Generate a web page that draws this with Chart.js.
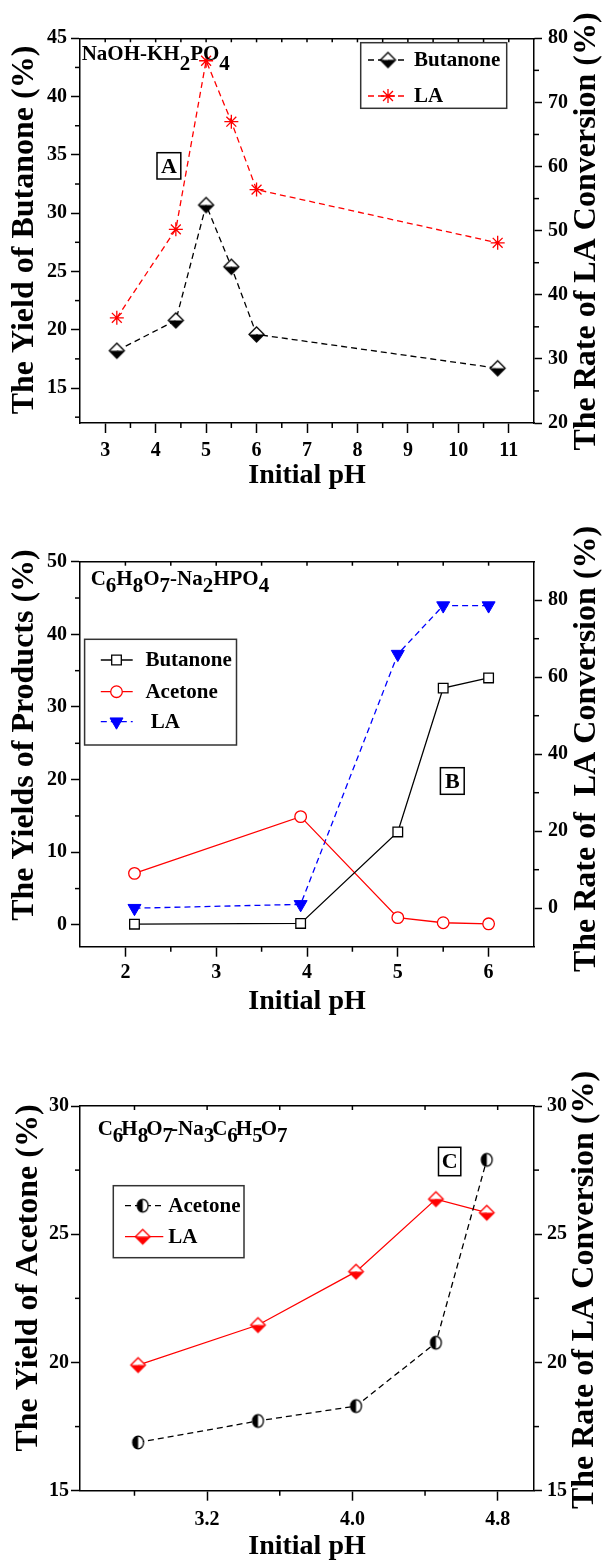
<!DOCTYPE html>
<html>
<head>
<meta charset="utf-8">
<script src="https://cdn.jsdelivr.net/npm/chart.js@4.4.1/dist/chart.umd.min.js"></script>
<style>
  body { margin: 0; background: #fff; }
  #wrap { position: relative; width: 603px; height: 1564px; }
  canvas { position: absolute; left: 0; }
</style>
</head>
<body>
<div id="wrap">
  <canvas id="chartA" width="603" height="500" style="top:0"></canvas>
  <canvas id="chartB" width="603" height="520" style="top:500px"></canvas>
  <canvas id="chartC" width="603" height="534" style="top:1030px"></canvas>
</div>
<script>
// Panel A - NaOH-KH2PO4
const phA = [3.23, 4.40, 5.00, 5.50, 6.00, 10.78];
const butanoneA = [18.2, 20.8, 30.7, 25.4, 19.6, 16.7];
const laA = [36.4, 50.2, 76.5, 67.0, 56.4, 48.1];
const xTicksA = [3, 4, 5, 6, 7, 8, 9, 10, 11];
const yTicksA = [15, 20, 25, 30, 35, 40, 45];
const y2TicksA = [20, 30, 40, 50, 60, 70, 80];

// Panel B - C6H8O7-Na2HPO4
const phB = [2.10, 3.93, 5.00, 5.50, 6.00];
const butanoneB = [0.1, 0.2, 12.8, 32.6, 34.0];
const acetoneB = [7.1, 14.9, 1.0, 0.3, 0.15];
const laB = [0.0, 1.0, 66.0, 78.6, 78.6];
const xTicksB = [2, 3, 4, 5, 6];
const yTicksB = [0, 10, 20, 30, 40, 50];
const y2TicksB = [0, 20, 40, 60, 80];

// Panel C - C6H8O7-Na3C6H5O7
const phC = [2.82, 3.48, 4.02, 4.46, 4.74];
const acetoneC = [16.88, 17.72, 18.30, 20.77, 27.9];
const laC = [19.9, 21.46, 23.54, 26.37, 25.84];
const xTicksC = [3.2, 4.0, 4.8];
const yTicksC = [15, 20, 25, 30];
const y2TicksC = [15, 20, 25, 30];

const SERIF = "'Liberation Serif', 'Times New Roman', serif";
const pts = (xs, ys) => xs.map((x, i) => ({ x: x, y: ys[i] }));

// marker images: half filled diamond and half filled circle
function halfDiamond(r, color) {
  const c = document.createElement('canvas');
  const s = Math.ceil(2 * r + 4);
  c.width = c.height = s;
  const g = c.getContext('2d');
  const m = s / 2;
  g.beginPath(); g.moveTo(m - r, m); g.lineTo(m, m - r); g.lineTo(m + r, m); g.closePath();
  g.fillStyle = '#fff'; g.fill();
  g.beginPath(); g.moveTo(m - r, m); g.lineTo(m, m + r); g.lineTo(m + r, m); g.closePath();
  g.fillStyle = color; g.fill();
  g.beginPath(); g.moveTo(m - r, m); g.lineTo(m, m - r); g.lineTo(m + r, m); g.lineTo(m, m + r); g.closePath();
  g.strokeStyle = color; g.lineWidth = 1.3; g.stroke();
  return c;
}
function halfCircle(rx, ry) {
  const c = document.createElement('canvas');
  c.width = Math.ceil(2 * rx + 4); c.height = Math.ceil(2 * ry + 4);
  const g = c.getContext('2d');
  const mx = c.width / 2, my = c.height / 2;
  g.beginPath(); g.ellipse(mx, my, rx, ry, 0, 0, Math.PI * 2); g.fillStyle = '#fff'; g.fill();
  g.beginPath(); g.ellipse(mx, my, rx, ry, 0, Math.PI / 2, Math.PI * 1.5); g.closePath(); g.fillStyle = '#000'; g.fill();
  g.beginPath(); g.ellipse(mx, my, rx, ry, 0, 0, Math.PI * 2); g.strokeStyle = '#000'; g.lineWidth = 1.3; g.stroke();
  return c;
}

function axis(o) {
  return {
    type: 'linear',
    position: o.position,
    min: o.min,
    max: o.max,
    afterBuildTicks: s => { s.ticks = o.ticks.map(v => ({ value: v })); },
    afterFit: s => { if (s.isHorizontal()) s.height = o.size; else s.width = o.size; },
    grid: { drawOnChartArea: false, drawTicks: true, tickLength: o.tl || 9, tickWidth: 1.5, tickColor: '#000' },
    border: { display: true, color: '#000', width: 1.5 },
    ticks: {
      autoSkip: false, maxRotation: 0, color: '#000', padding: o.pad,
      font: { family: SERIF, size: 20, weight: 'bold' },
      callback: v => o.dec ? Number(v).toFixed(o.dec) : v
    },
    title: o.title ? {
      display: true, text: o.title, color: '#000',
      font: { family: SERIF, size: 28, weight: 'bold', lineHeight: 1 },
      padding: { top: 0, bottom: o.titlePad }
    } : { display: false }
  };
}
function topAxis(min, max) {
  return {
    type: 'linear', position: 'top', min: min, max: max,
    afterFit: s => { s.height = 0; },
    grid: { display: false }, ticks: { display: false },
    border: { display: true, color: '#000', width: 1.5 }
  };
}

function drawRotated(ctx, text, x, y) {
  ctx.save();
  ctx.translate(x, y);
  ctx.rotate(-Math.PI / 2);
  ctx.font = 'bold 32px ' + SERIF;
  ctx.fillStyle = '#000';
  ctx.textAlign = 'center';
  ctx.textBaseline = 'middle';
  ctx.fillText(text, 0, 0);
  ctx.restore();
}

// "_" marks the next character as a subscript
function drawFormula(ctx, f) {
  ctx.font = 'bold 21px ' + SERIF;
  ctx.fillStyle = '#000';
  ctx.textAlign = 'left';
  ctx.textBaseline = 'alphabetic';
  let x = f.x;
  for (let i = 0; i < f.text.length; i++) {
    let ch = f.text[i], sub = false;
    if (ch === '_') { sub = true; ch = f.text[++i]; }
    ctx.fillText(ch, x, sub ? f.y + f.drop : f.y);
    x += ctx.measureText(ch).width + (sub ? f.kern : 0);
  }
}

function extras(e) {
  return {
    id: 'extras',
    afterDraw(chart) {
      const ctx = chart.ctx, a = chart.chartArea;
      ctx.save();
      // minor ticks and inner top ticks
      ctx.strokeStyle = '#000';
      ctx.lineWidth = 1.5;
      Object.keys(e.minor).forEach(id => {
        const s = chart.scales[id], step = e.minor[id];
        const majors = s.ticks.map(t => t.value);
        for (let k = Math.ceil(s.min / step - 1e-9); k * step <= s.max + 1e-9; k++) {
          const v = k * step;
          if (Math.abs(v - s.min) < 1e-6 || Math.abs(v - s.max) < 1e-6) continue;
          const p = s.getPixelForValue(v);
          const major = majors.some(m => Math.abs(m - v) < 1e-6);
          ctx.beginPath();
          if (id === 'x') {
            ctx.moveTo(p, a.top); ctx.lineTo(p, a.top + 4);
            if (!major) { ctx.moveTo(p, a.bottom); ctx.lineTo(p, a.bottom + 5); }
          } else if (!major && s.position === 'left') {
            ctx.moveTo(a.left, p); ctx.lineTo(a.left - 5, p);
          } else if (!major) {
            ctx.moveTo(a.right, p); ctx.lineTo(a.right + 5, p);
          }
          ctx.stroke();
        }
      });

      drawRotated(ctx, e.yTitle.text, e.yTitle.x, e.yTitle.y);
      drawRotated(ctx, e.y2Title.text, e.y2Title.x, e.y2Title.y);
      drawFormula(ctx, e.formula);

      // panel letter in a box
      const t = e.tag;
      ctx.lineWidth = 1.5;
      ctx.strokeRect(t.x, t.y, t.w, t.h);
      ctx.font = 'bold 22px ' + SERIF;
      ctx.textAlign = 'center';
      ctx.textBaseline = 'middle';
      ctx.fillText(t.text, t.x + t.w / 2, t.y + t.h / 2 + 1);

      // legend, built from the datasets
      const L = e.legend;
      ctx.fillStyle = '#fff';
      ctx.fillRect(L.box[0], L.box[1], L.box[2], L.box[3]);
      ctx.strokeStyle = '#333';
      ctx.strokeRect(L.box[0], L.box[1], L.box[2], L.box[3]);
      chart.data.datasets.forEach((ds, i) => {
        const y = L.rows[i];
        ctx.save();
        ctx.strokeStyle = ds.borderColor;
        ctx.lineWidth = 1.3;
        ctx.setLineDash(ds.borderDash || []);
        ctx.beginPath(); ctx.moveTo(L.x1, y); ctx.lineTo(L.x2, y); ctx.stroke();
        ctx.setLineDash([]);
        ctx.fillStyle = ds.pointBackgroundColor;
        ctx.strokeStyle = ds.pointBorderColor;
        ctx.lineWidth = ds.pointBorderWidth;
        Chart.helpers.drawPoint(ctx, {
          pointStyle: ds.pointStyle, radius: ds.pointRadius,
          rotation: ds.pointRotation || 0, borderWidth: ds.pointBorderWidth
        }, L.mx, y);
        ctx.restore();
        ctx.fillStyle = '#000';
        ctx.font = 'bold 21px ' + SERIF;
        ctx.textAlign = 'left';
        ctx.textBaseline = 'middle';
        ctx.fillText(ds.label, L.tx + ((L.dx && L.dx[i]) || 0), y + 1);
      });
      ctx.restore();
    }
  };
}

function makeChart(id, top, scales, datasets, e) {
  new Chart(document.getElementById(id), {
    type: 'line',
    data: { datasets: datasets },
    options: {
      responsive: false,
      animation: false,
      devicePixelRatio: 1,
      layout: { padding: { top: top, left: 0, right: 0, bottom: 0 } },
      scales: scales,
      plugins: { legend: { display: false }, tooltip: { enabled: false } }
    },
    plugins: [extras(e)]
  });
}

// ---- Panel A
makeChart('chartA', 38.3, {
  x: axis({ position: 'bottom', min: 2.5, max: 11.5, ticks: xTicksA, size: 77, tl: 10, pad: 6, title: 'Initial pH', titlePad: 10 }),
  x2: topAxis(2.5, 11.5),
  y: axis({ position: 'left', min: 12, max: 45, ticks: yTicksA, size: 80, pad: 4 }),
  y2: axis({ position: 'right', min: 20, max: 80, ticks: y2TicksA, size: 69, tl: 8, pad: 6 })
}, [
  {
    label: 'Butanone', data: pts(phA, butanoneA), xAxisID: 'x', yAxisID: 'y',
    borderColor: '#000', borderWidth: 1.3, borderDash: [6, 4], tension: 0, fill: false,
    pointStyle: halfDiamond(7.5, '#000'), pointRadius: 7.5,
    pointBackgroundColor: '#000', pointBorderColor: '#000', pointBorderWidth: 1.3
  },
  {
    label: 'LA', data: pts(phA, laA), xAxisID: 'x', yAxisID: 'y2',
    borderColor: '#ff0000', borderWidth: 1.3, borderDash: [6, 4], tension: 0, fill: false,
    pointStyle: 'star', pointRadius: 7,
    pointBackgroundColor: '#ff0000', pointBorderColor: '#ff0000', pointBorderWidth: 1.3
  }
], {
  minor: { x: 0.5, y: 2.5, y2: 5 },
  yTitle: { text: 'The Yield of Butanone (%)', x: 25, y: 230 },
  y2Title: { text: 'The Rate of LA Conversion (%)', x: 586.5, y: 231.5 },
  formula: { text: 'NaOH-KH_2PO_4', x: 81.7, y: 60, drop: 10, kern: 0 },
  tag: { text: 'A', x: 157, y: 152.7, w: 23.8, h: 26.3 },
  legend: { box: [360.7, 42.7, 146, 65.6], x1: 368, x2: 408, mx: 388, tx: 414, rows: [60, 96] }
});

// ---- Panel B
makeChart('chartB', 61.7, {
  x: axis({ position: 'bottom', min: 1.5, max: 6.5, ticks: xTicksB, size: 73.3, tl: 10, pad: 4, title: 'Initial pH', titlePad: 4 }),
  x2: topAxis(1.5, 6.5),
  y: axis({ position: 'left', min: -3, max: 50, ticks: yTicksB, size: 80, pad: 4 }),
  y2: axis({ position: 'right', min: -10, max: 90, ticks: y2TicksB, size: 69, tl: 8, pad: 6 })
}, [
  {
    label: 'Butanone', data: pts(phB, butanoneB), xAxisID: 'x', yAxisID: 'y',
    borderColor: '#000', borderWidth: 1.3, tension: 0, fill: false,
    pointStyle: 'rect', pointRadius: 6.8,
    pointBackgroundColor: '#fff', pointBorderColor: '#000', pointBorderWidth: 1.3
  },
  {
    label: 'Acetone', data: pts(phB, acetoneB), xAxisID: 'x', yAxisID: 'y',
    borderColor: '#ff0000', borderWidth: 1.3, tension: 0, fill: false,
    pointStyle: 'circle', pointRadius: 5.8,
    pointBackgroundColor: '#fff', pointBorderColor: '#ff0000', pointBorderWidth: 1.3
  },
  {
    label: 'LA', data: pts(phB, laB), xAxisID: 'x', yAxisID: 'y2',
    borderColor: '#0000ff', borderWidth: 1.3, borderDash: [6, 4], tension: 0, fill: false,
    pointStyle: 'triangle', pointRotation: 180, pointRadius: 7.5,
    pointBackgroundColor: '#0000ff', pointBorderColor: '#0000ff', pointBorderWidth: 1
  }
], {
  minor: { x: 0.5, y: 5, y2: 10 },
  yTitle: { text: 'The Yields of Products (%)', x: 25, y: 235 },
  y2Title: { text: 'The Rate of  LA Conversion (%)', x: 586.5, y: 249 },
  formula: { text: 'C_6H_8O_7-Na_2HPO_4', x: 90.7, y: 85, drop: 7, kern: 0 },
  tag: { text: 'B', x: 440.4, y: 267.7, w: 23.8, h: 26.6 },
  legend: { box: [84.6, 139.3, 151.9, 105.7], x1: 100.8, x2: 132.7, mx: 116.5, tx: 145.4, rows: [160, 191.7, 221.7], dx: [0, 0, 5.4] }
});

// ---- Panel C
makeChart('chartC', 76, {
  x: axis({ position: 'bottom', min: 2.5, max: 5.0, ticks: xTicksC, dec: 1, size: 73.3, tl: 10, pad: 7, title: 'Initial pH', titlePad: 3 }),
  x2: topAxis(2.5, 5.0),
  y: axis({ position: 'left', min: 15, max: 30, ticks: yTicksC, size: 80, pad: 2 }),
  y2: axis({ position: 'right', min: 15, max: 30, ticks: y2TicksC, size: 69, tl: 8, pad: 5 })
}, [
  {
    label: 'Acetone', data: pts(phC, acetoneC), xAxisID: 'x', yAxisID: 'y',
    borderColor: '#000', borderWidth: 1.3, borderDash: [6, 4], tension: 0, fill: false,
    pointStyle: halfCircle(5.4, 6.3), pointRadius: 6,
    pointBackgroundColor: '#000', pointBorderColor: '#000', pointBorderWidth: 1.3
  },
  {
    label: 'LA', data: pts(phC, laC), xAxisID: 'x', yAxisID: 'y2',
    borderColor: '#ff0000', borderWidth: 1.3, tension: 0, fill: false,
    pointStyle: halfDiamond(7.3, '#ff0000'), pointRadius: 7.3,
    pointBackgroundColor: '#ff0000', pointBorderColor: '#ff0000', pointBorderWidth: 1.3
  }
], {
  minor: { x: 0.4, y: 2.5, y2: 2.5 },
  yTitle: { text: 'The Yield of Acetone (%)', x: 28.8, y: 248 },
  y2Title: { text: 'The Rate of LA Conversion (%)', x: 584.6, y: 260 },
  formula: { text: 'C_6H_8O_7-Na_3C_6H_5O_7', x: 97.7, y: 105, drop: 7, kern: -2 },
  tag: { text: 'C', x: 438.5, y: 117.3, w: 22.3, h: 28.4 },
  legend: { box: [113.3, 155.7, 130.7, 72], x1: 125, x2: 163.3, mx: 142.7, tx: 168.3, rows: [175.7, 206.7] }
});
</script>
</body>
</html>
